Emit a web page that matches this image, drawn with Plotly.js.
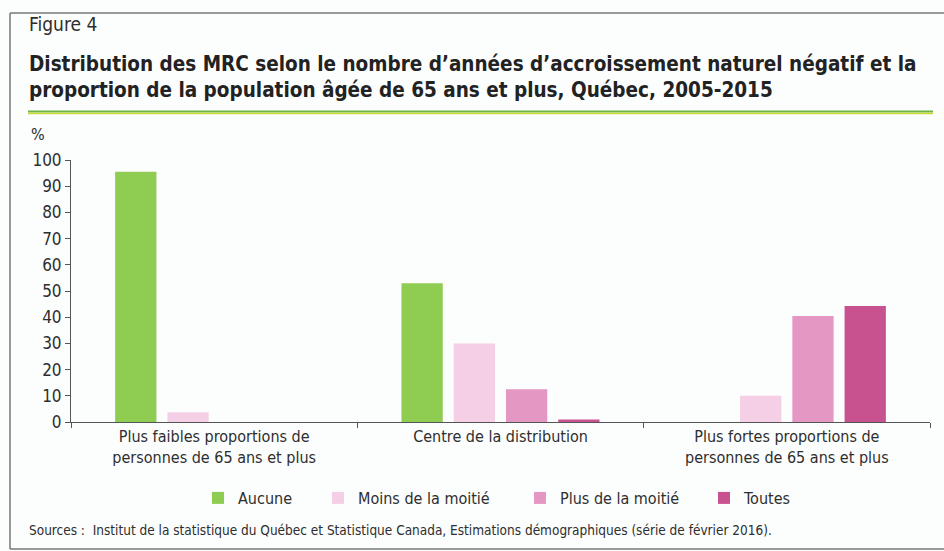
<!DOCTYPE html>
<html>
<head>
<meta charset="utf-8">
<script src="https://cdn.plot.ly/plotly-3.0.1.min.js"></script>
<style>html,body{margin:0;padding:0;background:#fcfdfd;}#chart{width:944px;height:551px;}</style>
</head>
<body>
<div id="chart"></div>
<script>
const categories = [
  "Plus faibles proportions de<br>personnes de 65 ans et plus",
  "Centre de la distribution<br> ",
  "Plus fortes proportions de<br>personnes de 65 ans et plus"
];
const seriesNames = ["Aucune", "Moins de la moitié", "Plus de la moitié", "Toutes"];
const aucune = [95.5, 53, 0];
const moinsMoitie = [3.7, 30, 10];
const plusMoitie = [0, 12.5, 40.5];
const toutes = [0, 1, 44.3];
const yTicks = [0, 10, 20, 30, 40, 50, 60, 70, 80, 90, 100];

const colors = ["#8fcc52", "#f5cfe5", "#e397c2", "#c8528f"];
const FONT = "'Liberation Sans Narrow', 'Arial Narrow', 'DejaVu Sans Condensed', sans-serif";
const TXT = "#2e2e2e";

const W = 944, H = 551;
const L = 71, R = 930, T = 160, B = 422;
const px = x => (x - L) / (R - L);
const py = y => (B - y) / (B - T);

const values = [aucune, moinsMoitie, plusMoitie, toutes];
const legendKeys = ["legend", "legend2", "legend3", "legend4"];
const traces = seriesNames.map((n, i) => ({
  type: "bar", name: n, x: categories, y: values[i],
  marker: {color: colors[i], line: {width: 0}},
  legend: legendKeys[i], hoverinfo: "skip"
}));

const legendX = [198, 318, 520, 704];
const legendCommon = i => ({
  orientation: "h", xref: "container", yref: "container",
  x: legendX[i] / W, y: 1 - 481 / H, xanchor: "left", yanchor: "top",
  bgcolor: "rgba(0,0,0,0)", borderwidth: 0, itemwidth: 30,
  font: {family: FONT, size: 16, color: TXT}
});

const layout = {
  width: W, height: H,
  paper_bgcolor: "#fcfdfd", plot_bgcolor: "#fcfdfd",
  margin: {l: L, r: W - R, t: T, b: H - B, pad: 0},
  barmode: "group", bargap: 0.27, bargroupgap: 0.21,
  showlegend: true,
  legend: legendCommon(0), legend2: legendCommon(1), legend3: legendCommon(2), legend4: legendCommon(3),
  font: {family: FONT, color: TXT},
  xaxis: {
    type: "category", showgrid: false, zeroline: false,
    showline: true, linecolor: "#555", linewidth: 1,
    ticks: "outside", tickson: "boundaries", ticklen: 5, tickcolor: "#555",
    tickfont: {family: FONT, size: 16, color: TXT}, fixedrange: true
  },
  yaxis: {
    range: [0, 100], tickvals: yTicks, showgrid: false, zeroline: false,
    showline: true, linecolor: "#555", linewidth: 1,
    ticks: "outside", ticklen: 5, tickcolor: "#555",
    tickfont: {family: FONT, size: 17, color: TXT}, fixedrange: true
  },
  annotations: [
    {text: "Figure 4", xref: "paper", yref: "paper", x: px(27), y: py(24), xanchor: "left", yanchor: "middle",
     showarrow: false, font: {family: FONT, size: 19, color: TXT}},
    {text: "<b>Distribution des MRC selon le nombre d’années d’accroissement naturel négatif et la</b>",
     xref: "paper", yref: "paper", x: px(27), y: py(64), xanchor: "left", yanchor: "middle",
     showarrow: false, font: {family: FONT, size: 20.5, color: "#222"}},
    {text: "<b>proportion de la population âgée de 65 ans et plus, Québec, 2005-2015</b>",
     xref: "paper", yref: "paper", x: px(27), y: py(90), xanchor: "left", yanchor: "middle",
     showarrow: false, font: {family: FONT, size: 20.5, color: "#222"}},
    {text: "%", xref: "paper", yref: "paper", x: px(29), y: py(134), xanchor: "left", yanchor: "middle",
     showarrow: false, font: {family: FONT, size: 16, color: TXT}},
    {text: "Sources :  Institut de la statistique du Québec et Statistique Canada, Estimations démographiques (série de février 2016).",
     xref: "paper", yref: "paper", x: px(27), y: py(530), xanchor: "left", yanchor: "middle",
     showarrow: false, font: {family: FONT, size: 13.5, color: TXT}}
  ],
  shapes: [
    {type: "line", xref: "paper", yref: "paper", x0: px(10), x1: px(944), y0: py(13), y1: py(13), line: {color: "#777", width: 1.5}},
    {type: "line", xref: "paper", yref: "paper", x0: px(10), x1: px(10), y0: py(13), y1: py(549), line: {color: "#777", width: 1.5}},
    {type: "line", xref: "paper", yref: "paper", x0: px(10), x1: px(944), y0: py(549), y1: py(549), line: {color: "#777", width: 1.5}},
    {type: "line", xref: "paper", yref: "paper", x0: px(28), x1: px(933), y0: py(111.5), y1: py(111.5), line: {color: "#6cb445", width: 2}},
    {type: "line", xref: "paper", yref: "paper", x0: px(28), x1: px(933), y0: py(113.5), y1: py(113.5), line: {color: "#c9d92e", width: 1.5}}
  ]
};

Plotly.newPlot("chart", traces, layout, {displayModeBar: false, staticPlot: true});
</script>
</body>
</html>
